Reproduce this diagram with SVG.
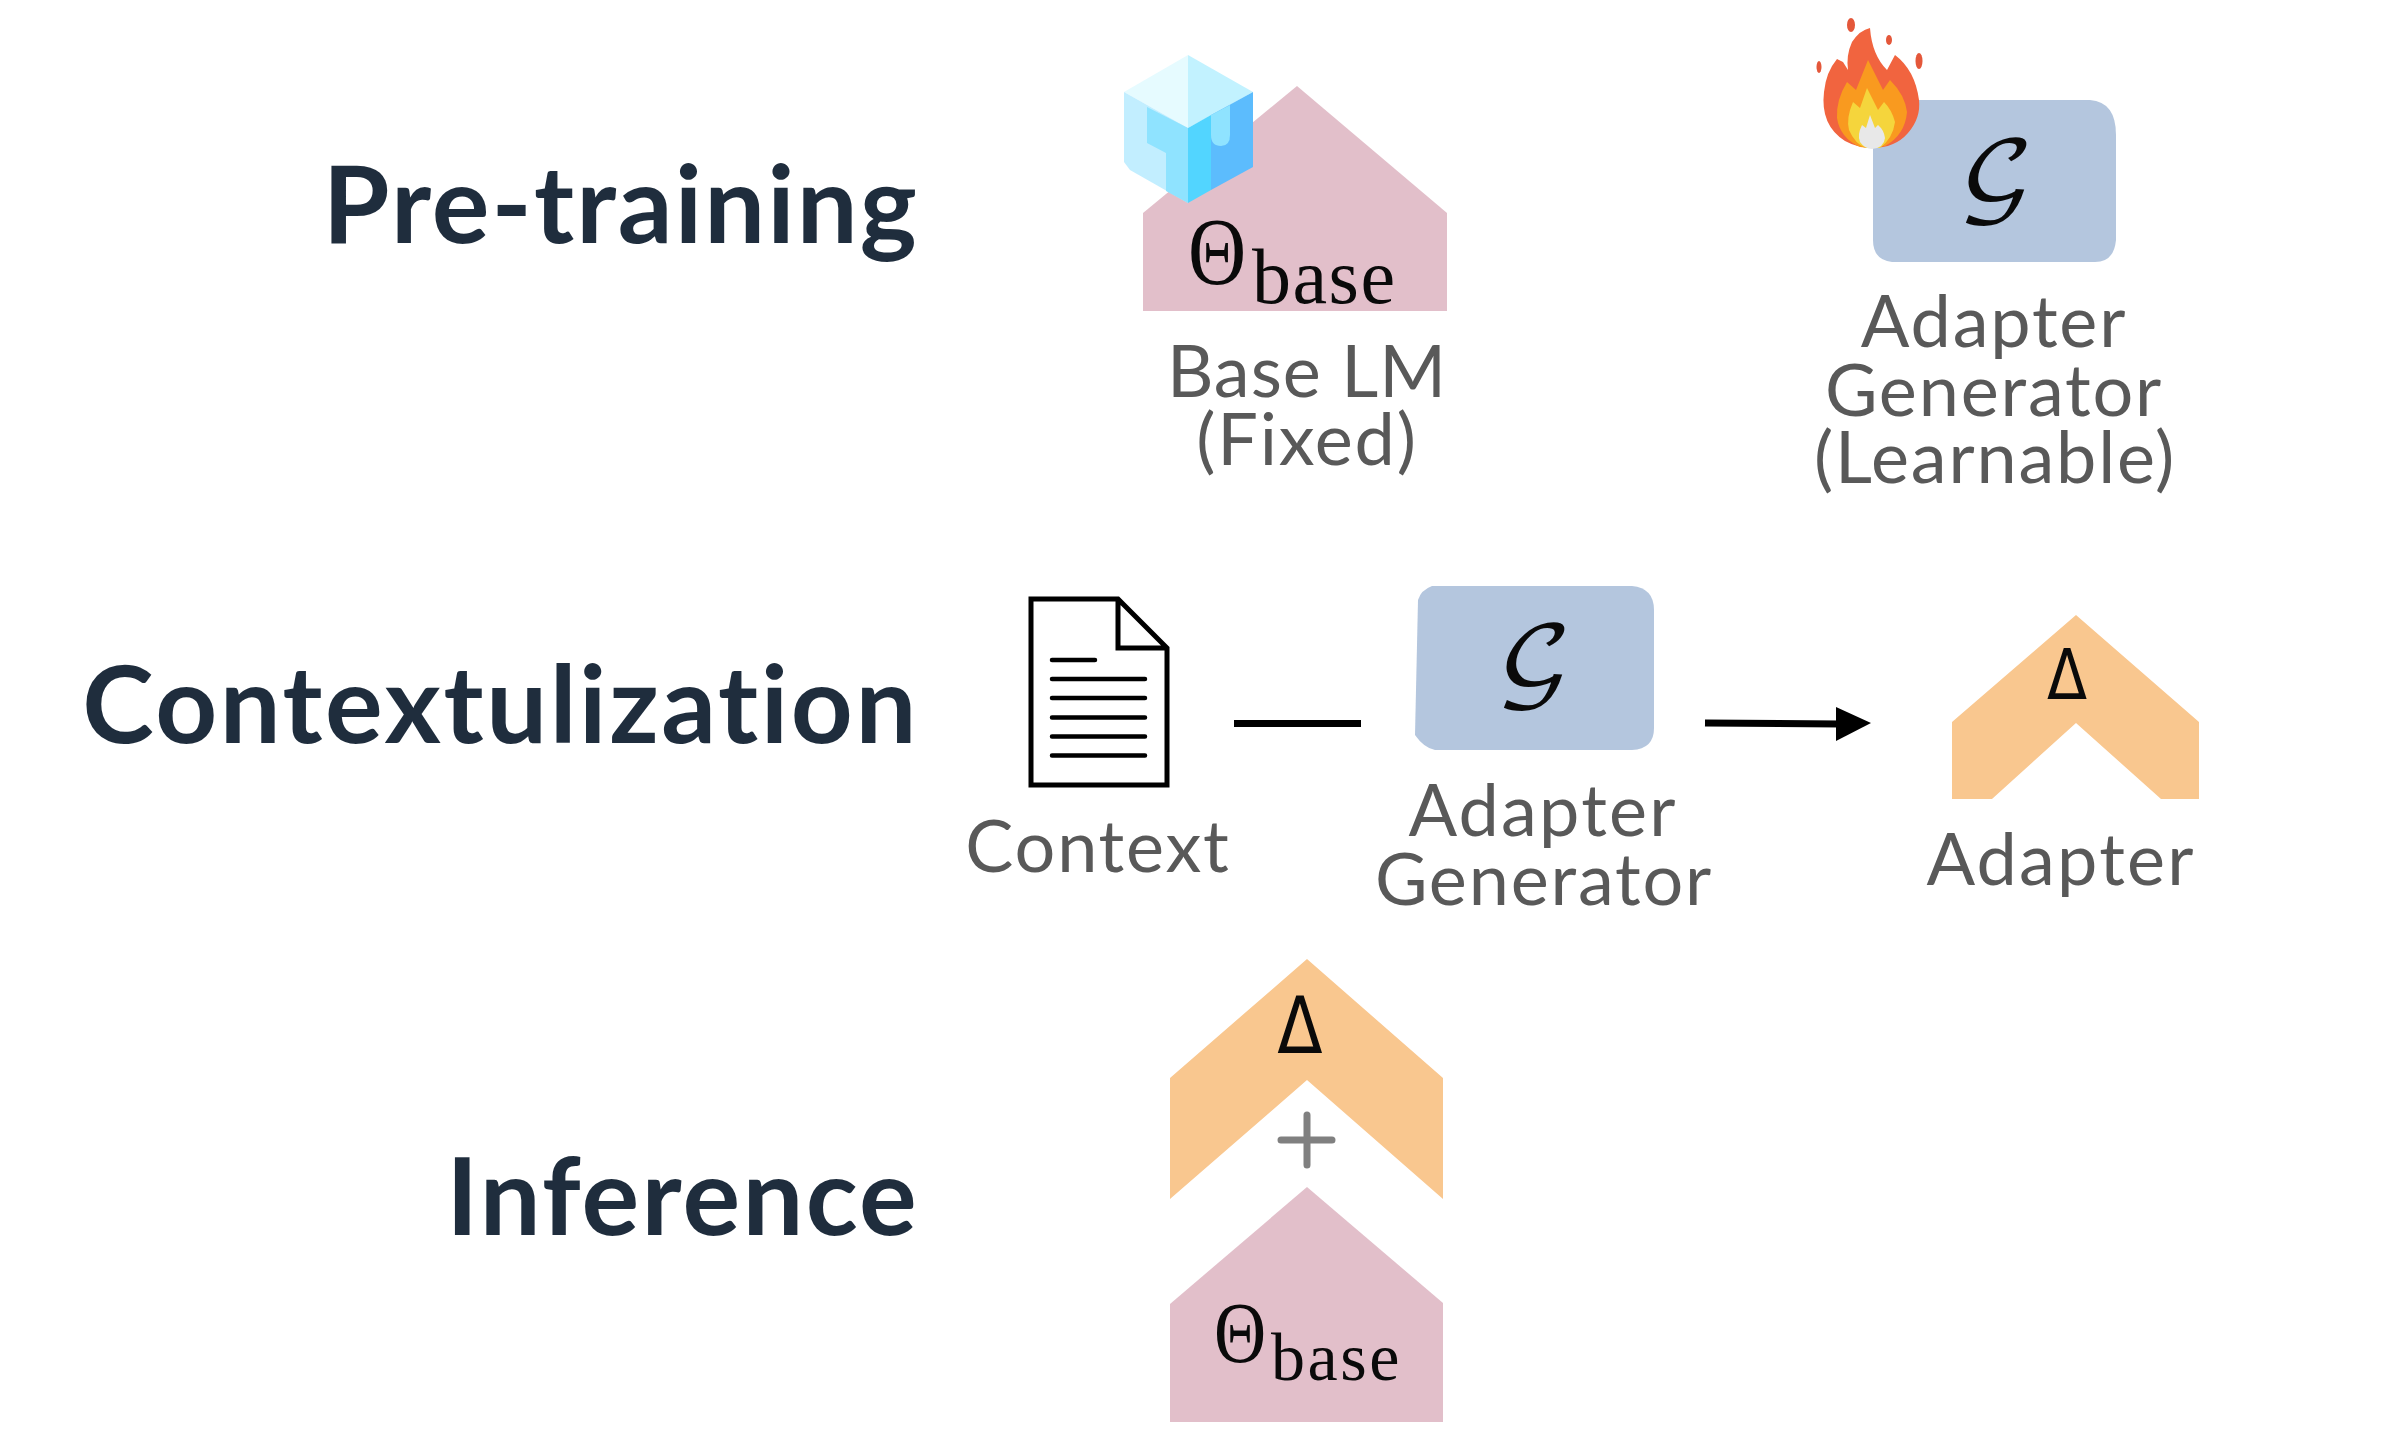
<svg xmlns="http://www.w3.org/2000/svg" width="2388" height="1436" viewBox="0 0 2388 1436">
<style>
.h{font-family:Lato,"Open Sans",sans-serif;font-weight:700;font-size:108px;letter-spacing:2.300px;font-variant-ligatures:none;fill:#1f2d3d;text-anchor:end}
.l{font-family:Lato,"Open Sans",sans-serif;font-size:72px;letter-spacing:1.800px;fill:#595959;text-anchor:middle}
.m{font-family:"Liberation Serif","DejaVu Serif",serif;fill:#0a0a0a}
.d{font-family:"DejaVu Sans",sans-serif;fill:#0a0a0a;text-anchor:middle}
.g{font-family:"DejaVu Math TeX Gyre","DejaVu Serif",serif;fill:#0a0a0a;text-anchor:middle;font-size:86px}
.base{fill:#e2bfca}.ad{fill:#f9c78f}.gen{fill:#b4c6de}
.ic{fill:none;stroke:#000;stroke-width:5}
</style>
<rect width="2388" height="1436" fill="#fff"/>
<g id="title-pretraining"><text class="h" x="919" y="243" style="letter-spacing:2.100px">Pre-training</text></g>
<g id="title-contextualization"><text class="h" x="919" y="743" style="letter-spacing:2.600px">Contextulization</text></g>
<g id="title-inference"><text class="h" x="919" y="1235">Inference</text></g>

<g id="base-lm">
<polygon class="base" points="1143,213 1297,86 1447,213 1447,311 1143,311"/>
<text class="m" transform="translate(1188,284) scale(.84,1)" font-size="96">Θ</text>
<text class="m" x="1252" y="303" font-size="78" letter-spacing="1.500">base</text>
<text class="l" x="1307" y="397" style="letter-spacing:1px">Base LM</text>
<text class="l" x="1307" y="465">(Fixed)</text>
<g id="ice-cube">
<polygon points="1124,92 1188,55 1188,128" fill="#e6fbff"/>
<polygon points="1188,55 1253,92 1188,128" fill="#c2f2ff"/>
<polygon points="1124,92 1188,128 1188,203 1130,170 1124,162" fill="#c2eeff"/>
<polygon points="1147,107 1188,128 1188,203 1166,191 1166,153 1147,143" fill="#8fe3ff"/>
<polygon points="1188,128 1211,115 1211,190 1188,203" fill="#52d5ff"/>
<polygon points="1211,115 1253,92 1253,167 1211,190" fill="#5cbcfd"/>
<path d="M1211,115 V135 Q1211,146 1221,146 Q1230,146 1230,135 V105 Z" fill="#8fe3ff"/>
</g>
</g>

<g id="adapter-generator-learnable">
<path class="gen" d="M1873,100 H2090 Q2116,102 2116,135 V240 Q2114,262 2095,262 H1892 Q1873,260 1873,240 Z"/>
<text class="g" transform="translate(1996,203) scale(1.180,1)">𝒢</text>
<text class="l" x="1994" y="347">Adapter</text>
<text class="l" x="1994" y="416">Generator</text>
<text class="l" x="1995" y="483">(Learnable)</text>
<g id="flame">
<path d="M1870,28 Q1860,30 1852,42 Q1846,55 1848,70 L1843,62 L1837,59 Q1826,72 1824,92 Q1820,125 1845,141 Q1858,148 1872,148 Q1895,148 1908,133 Q1921,118 1919,100 Q1915,70 1895,55 L1887,70 Q1872,55 1870,28 Z" fill="#f1643f"/>
<path d="M1868,60 L1856,90 L1847,82 Q1836,100 1837,118 Q1840,138 1860,147 Q1872,149 1885,146 Q1905,135 1907,112 Q1905,95 1890,80 L1883,90 Z" fill="#f99a1f"/>
<path d="M1867,88 L1860,108 L1853,102 Q1846,118 1849,130 Q1855,144 1866,148 L1880,148 Q1893,138 1895,122 Q1892,110 1884,102 L1878,110 Z" fill="#f5d53c"/>
<path d="M1870,115 L1866,128 L1862,125 Q1857,135 1860,142 Q1865,149 1872,149 Q1884,148 1885,138 Q1884,130 1878,125 L1875,128 Z" fill="#e8e8e8"/>
<ellipse cx="1851" cy="25" rx="4" ry="7" fill="#e4573a"/>
<ellipse cx="1889" cy="40" rx="3" ry="5" fill="#e4573a"/>
<ellipse cx="1919" cy="61" rx="3.500" ry="8" fill="#e4573a"/>
<ellipse cx="1819" cy="67" rx="2.500" ry="6" fill="#e4573a"/>
</g>
</g>

<g id="context">
<path class="ic" d="M1118,599 H1031 V785 H1167 V648 Z M1118,599 V648 H1167"/>
<path d="M1052,660 H1095 M1052,679 H1145 M1052,698 H1145 M1052,717.500 H1145 M1052,736.500 H1145 M1052,755.500 H1145" fill="none" stroke="#000" stroke-width="4.500" stroke-linecap="round"/>
<text class="l" x="1098" y="872">Context</text>
</g>

<g id="adapter-generator">
<path class="gen" d="M1432,586 H1632 Q1654,588 1654,610 V728 Q1654,749 1632,750 H1435 Q1424,748 1415,735 L1418,600 Q1421,590 1432,586 Z"/>
<text class="g" transform="translate(1534,688) scale(1.180,1)">𝒢</text>
<text class="l" x="1543" y="836" style="letter-spacing:2.200px">Adapter</text>
<text class="l" x="1544" y="905">Generator</text>
</g>

<g id="adapter">
<polygon class="ad" points="1952,722 2076,615 2199,722 2199,799 2161,799 2076,723 1992,799 1952,799"/>
<text class="d" transform="translate(2067,699) scale(.85,1)" font-size="69">Δ</text>
<text class="l" x="2061" y="885" style="letter-spacing:2.200px">Adapter</text>
</g>

<g id="inference-stack">
<polygon class="ad" points="1170,1078 1307,959 1443,1078 1443,1199 1307,1080 1170,1199"/>
<text class="d" transform="translate(1300,1053) scale(.85,1)" font-size="78">Δ</text>
<path d="M1281,1140 H1332 M1307,1115 V1165" stroke="#808080" stroke-width="7" stroke-linecap="round" fill="none"/>
<polygon class="base" points="1170,1304 1307,1187 1443,1303 1443,1422 1170,1422"/>
<text class="m" transform="translate(1214,1362) scale(.84,1)" font-size="86">Θ</text>
<text class="m" x="1271" y="1380" font-size="68" letter-spacing="2.500">base</text>
</g>

<g id="connectors">
<line x1="1234" y1="723.500" x2="1361" y2="723.500" stroke="#000" stroke-width="7"/>
<line x1="1705" y1="723" x2="1840" y2="724" stroke="#000" stroke-width="7"/>
<polygon points="1836,707 1871,723 1836,741"/>
</g>
</svg>
